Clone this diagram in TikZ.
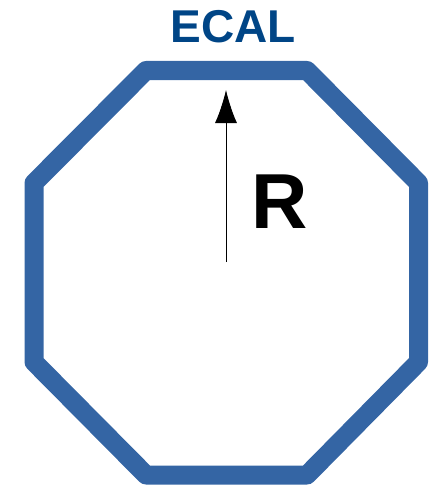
\documentclass[tikz,border=0pt]{standalone}
\usepackage{fontspec}
\setmainfont{Liberation Sans}
\usetikzlibrary{arrows.meta}
\definecolor{ecalblue}{HTML}{3465A4}
\definecolor{ecaltext}{HTML}{004586}
\begin{document}
\begin{tikzpicture}[x=1pt,y=-1pt,
  wall/.style={draw=ecalblue,line width=19pt,line join=round},
  radius/.style={draw=black,line width=0.9pt,-{Latex[length=33pt,width=22pt]}},
  lbl/.style={inner sep=0pt,anchor=base,font=\bfseries}]
\useasboundingbox (0,0) rectangle (433,487);
\draw[wall] (146,70.5) -- (307,70.5) -- (418.5,183) -- (418.5,362) -- (307,475) -- (146,475) -- (34,362) -- (34,183) -- cycle;
\node[lbl,text=ecaltext,font=\fontsize{46}{46}\selectfont\bfseries] (ecal) at (233,43) {ECAL};
\coordinate (c) at (226,262);
\coordinate (t) at (226,90);
\draw[radius] (c) -- (t);
\node[lbl,font=\fontsize{78}{78}\selectfont\bfseries] (r) at (280,228) {R};
\end{tikzpicture}
\end{document}
